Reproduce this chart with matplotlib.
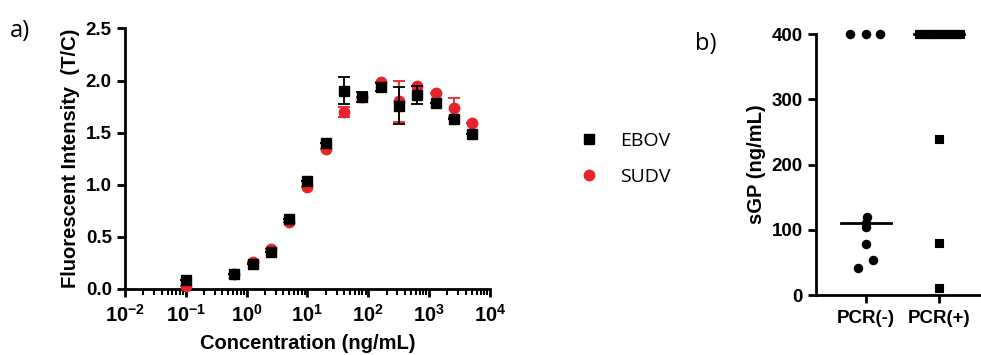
import matplotlib.pyplot as plt
from matplotlib.lines import Line2D
import numpy as np

plt.rcParams['font.family'] = 'Liberation Sans'
plt.rcParams['font.weight'] = 'bold'
plt.rcParams['mathtext.fontset'] = 'custom'
plt.rcParams['mathtext.bf'] = 'Liberation Sans:bold'
plt.rcParams['mathtext.rm'] = 'Liberation Sans:bold'

# panel a: dose response
conc = [0.1, 0.625, 1.25, 2.5, 5, 10, 20, 40, 80, 160, 320, 640, 1280, 2560, 5120]
ebov = [0.09, 0.14, 0.24, 0.35, 0.67, 1.04, 1.40, 1.90, 1.84, 1.94, 1.76, 1.86, 1.78, 1.63, 1.49]
ebov_err = [0, 0, 0, 0, 0, 0, 0, 0.13, 0.05, 0.04, 0.18, 0.09, 0, 0, 0]
sudv = [0.03, 0.14, 0.26, 0.38, 0.64, 0.98, 1.34, 1.70, 1.84, 1.99, 1.80, 1.95, 1.88, 1.74, 1.59]
sudv_err = [0, 0, 0, 0, 0, 0, 0, 0.05, 0, 0, 0.20, 0, 0, 0.09, 0]
xticks_exp = [-2, -1, 0, 1, 2, 3, 4]

# panel b: sGP by PCR status
groups = ["PCR(-)", "PCR(+)"]
neg_vals = [400, 400, 400, 119, 111, 105, 78, 53, 42]
neg_off = [-0.21, 0, 0.2, 0.02, 0.0, 0.0, 0.0, 0.1, -0.1]
pos_vals = [400] * 15 + [239, 80, 10]
pos_off = list(np.linspace(-0.28, 0.29, 15)) + [0, 0, 0]
neg_median = 111
pos_median = 400

red = '#e8242b'
fig = plt.figure(figsize=(9.81, 3.55), dpi=100)

ax = fig.add_axes([0.1274, 0.186, 0.3721, 0.734])
ax.errorbar(conc, sudv, yerr=sudv_err, fmt='o', color=red, ms=7.5, capsize=4,
            elinewidth=1.3, capthick=1.3, zorder=3)
ax.errorbar(conc, ebov, yerr=ebov_err, fmt='s', color='black', ms=7, capsize=4,
            elinewidth=1.3, capthick=1.3, zorder=4)
ax.set_xscale('log')
ax.set_xlim(1e-2, 1e4)
ax.set_ylim(0, 2.5)
ax.set_xticks([10.0 ** e for e in xticks_exp])
ax.set_xticklabels([r'$\mathbf{10^{%d}}$' % e for e in xticks_exp])
ax.set_yticks([0, 0.5, 1.0, 1.5, 2.0, 2.5])
ax.set_yticklabels(['0.0', '0.5', '1.0', '1.5', '2.0', '2.5'])
for s in ['top', 'right']:
    ax.spines[s].set_visible(False)
for s in ['left', 'bottom']:
    ax.spines[s].set_linewidth(2)
ax.tick_params(which='major', width=2, length=6, labelsize=13.5)
ax.tick_params(which='minor', width=1.5, length=4)
ax.tick_params(axis='x', pad=5, labelsize=14.5)
ax.set_xlabel('Concentration (ng/mL)', fontsize=14.5, fontweight='bold', labelpad=6)
ax.set_ylabel('Fluorescent Intensity  (T/C)', fontsize=14.5, fontweight='bold', labelpad=4)
for art in ax.get_children():
    art.set_clip_on(False)

handles = [Line2D([], [], ls='none', marker='s', color='black', ms=7),
           Line2D([], [], ls='none', marker='o', color=red, ms=7.5)]
fig.legend(handles, ['EBOV', 'SUDV'], loc='center left', bbox_to_anchor=(0.575, 0.552),
           frameon=False, handlelength=0.8, handletextpad=1.2, labelspacing=0.9,
           prop={'family': 'Open Sans', 'weight': 'normal', 'size': 14})

fig.text(0.01, 0.895, 'a)', fontsize=17, fontweight='normal', family='Open Sans')
fig.text(0.708, 0.86, 'b)', fontsize=17, fontweight='normal', family='Open Sans')

# panel b
bx = fig.add_axes([0.8318, 0.169, 0.1682, 0.7344])
bx.scatter(np.array(neg_off) + 0, neg_vals, marker='o', color='black', s=34, zorder=3, clip_on=False)
bx.scatter(np.array(pos_off) + 1, pos_vals, marker='s', color='black', s=34, zorder=3,
           clip_on=False, linewidths=0.8)
bx.plot([-0.34, 0.34], [neg_median] * 2, color='black', lw=2)
bx.plot([1 - 0.34, 1 + 0.34], [pos_median] * 2, color='black', lw=2, clip_on=False)
bx.set_xlim(-0.675, 1.57)
bx.set_ylim(0, 400)
bx.set_xticks([0, 1])
bx.set_xticklabels(groups)
bx.set_yticks([0, 100, 200, 300, 400])
for s in ['top', 'right']:
    bx.spines[s].set_visible(False)
for s in ['left', 'bottom']:
    bx.spines[s].set_linewidth(2)
bx.tick_params(width=2, length=6, labelsize=13.5)
bx.tick_params(axis='x', pad=5)
bx.set_ylabel('sGP (ng/mL)', fontsize=14.5, fontweight='bold', labelpad=4)

fig.savefig('out.png', dpi=100)
